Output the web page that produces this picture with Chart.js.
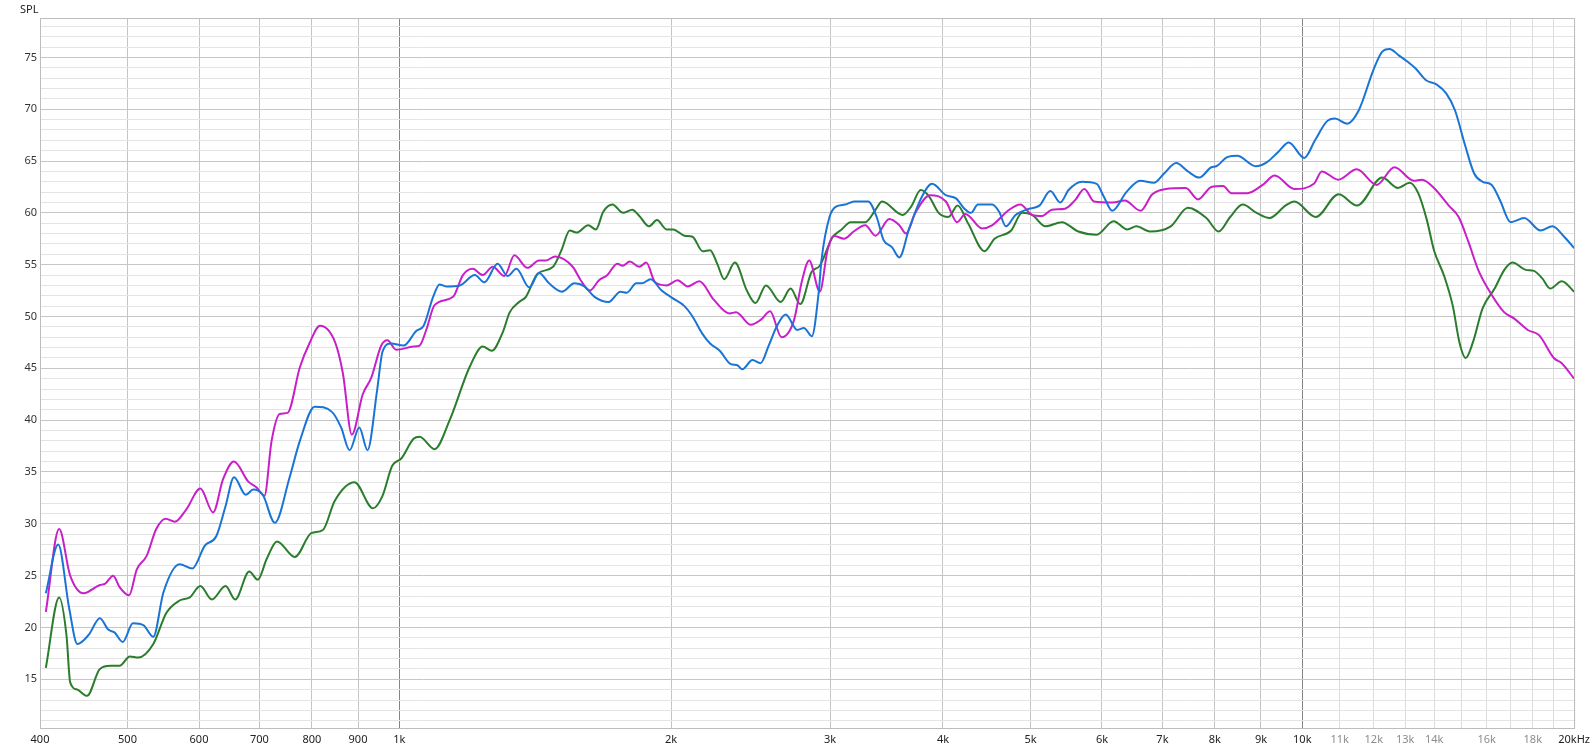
<!DOCTYPE html>
<html>
<head>
<meta charset="utf-8">
<script src="https://cdn.jsdelivr.net/npm/chart.js@4.4.1/dist/chart.umd.min.js"></script>
<style>
  html, body { margin: 0; padding: 0; background: #fff; }
  #wrap { width: 1595px; height: 752px; position: relative; }
</style>
</head>
<body>
<div id="wrap"><canvas id="spl" width="1595" height="752"></canvas></div>
<script>
// frequency response, [Hz, dB SPL]
const blueCurve = [[406,23.3],[419,28.0],[431,21.8],[440,18.4],[453,19.3],[466,20.9],[476,19.8],[484,19.5],[494,18.6],[507,20.4],[521,20.2],[534,19.1],[548,23.4],[571,26.1],[590,25.7],[609,27.9],[627,28.8],[642,31.7],[656,34.5],[676,32.8],[689,33.3],[706,32.8],[728,30.1],[756,34.5],[776,38.0],[806,41.3],[842,40.8],[862,39.3],[881,37.1],[903,39.3],[922,37.1],[945,42.9],[958,46.6],[979,47.4],[1011,47.2],[1044,48.6],[1064,49.1],[1090,51.9],[1108,53.1],[1127,52.9],[1167,53.0],[1212,54.0],[1242,53.3],[1285,55.1],[1318,53.9],[1348,54.6],[1393,52.8],[1428,54.2],[1465,53.2],[1514,52.4],[1563,53.2],[1603,52.9],[1645,51.9],[1705,51.4],[1757,52.4],[1786,52.3],[1830,53.2],[1856,53.2],[1898,53.6],[1952,52.5],[2005,51.8],[2069,51.0],[2112,50.0],[2167,48.3],[2209,47.4],[2264,46.7],[2329,45.4],[2368,45.3],[2398,44.9],[2461,45.8],[2512,45.5],[2565,47.2],[2620,49.1],[2678,50.2],[2759,48.7],[2806,48.9],[2863,48.1],[2915,52.5],[2935,55.5],[2995,59.6],[3045,60.6],[3116,60.8],[3190,61.1],[3305,61.1],[3378,59.6],[3437,57.4],[3512,56.7],[3579,55.7],[3670,58.5],[3793,61.6],[3890,62.8],[4030,61.7],[4135,61.4],[4225,60.4],[4296,60.0],[4373,60.8],[4536,60.8],[4616,60.1],[4696,58.7],[4814,59.8],[4984,60.4],[5115,60.7],[5260,62.1],[5395,61.0],[5510,62.2],[5700,63.0],[5920,62.8],[6025,61.6],[6160,60.2],[6385,62.0],[6613,63.1],[6850,62.9],[7030,63.8],[7250,64.8],[7470,64.0],[7690,63.4],[7930,64.4],[8030,64.5],[8270,65.4],[8470,65.5],[8880,64.5],[9140,64.9],[9410,65.9],[9660,66.8],[10050,65.3],[10330,67.0],[10640,68.8],[10870,69.1],[11210,68.6],[11550,69.9],[11990,73.8],[12250,75.5],[12490,75.8],[12790,75.2],[13070,74.6],[13360,73.9],[13710,72.8],[14080,72.4],[14440,71.5],[14760,69.9],[15160,66.4],[15500,63.8],[15840,63.0],[16210,62.7],[16560,61.2],[17010,59.1],[17610,59.5],[18360,58.3],[18920,58.7],[19500,57.7],[20000,56.6]];

const magentaCurve = [[406,21.5],[420,29.5],[432,25.0],[447,23.3],[466,24.1],[472,24.2],[482,25.0],[490,23.9],[502,23.1],[512,25.6],[525,26.9],[538,29.5],[551,30.5],[564,30.2],[581,31.4],[602,33.4],[622,31.1],[638,34.3],[656,36.0],[680,34.1],[695,33.5],[709,32.7],[722,38.0],[737,40.6],[752,40.7],[776,45.1],[795,47.4],[817,49.1],[849,47.5],[866,44.5],[886,38.6],[911,42.5],[931,44.1],[955,47.2],[970,47.7],[992,46.8],[1037,47.1],[1053,47.2],[1071,48.7],[1094,51.1],[1147,51.9],[1176,54.0],[1206,54.6],[1237,54.0],[1269,54.8],[1307,53.9],[1341,55.9],[1386,54.7],[1428,55.4],[1452,55.4],[1488,55.8],[1556,54.8],[1588,53.5],[1625,52.5],[1664,53.5],[1700,54.0],[1743,55.1],[1767,54.9],[1800,55.3],[1844,54.8],[1877,55.2],[1920,53.3],[1977,53.0],[2033,53.5],[2086,52.9],[2149,53.4],[2231,51.6],[2320,50.3],[2360,50.4],[2451,49.2],[2515,49.7],[2574,50.5],[2650,48.0],[2735,49.6],[2793,53.5],[2844,55.4],[2922,52.4],[2980,56.4],[3027,57.8],[3108,57.5],[3185,58.2],[3281,58.8],[3368,57.8],[3489,59.4],[3579,58.8],[3640,58.0],[3728,60.0],[3870,61.7],[4030,61.1],[4147,59.1],[4236,59.9],[4420,58.5],[4533,58.8],[4736,60.3],[4873,60.8],[5022,59.8],[5150,59.7],[5282,60.3],[5460,60.4],[5600,61.2],[5737,62.3],[5880,61.1],[6168,61.0],[6358,61.2],[6622,60.2],[6822,61.8],[7060,62.3],[7430,62.4],[7663,61.3],[7930,62.5],[8170,62.6],[8350,61.9],[8690,61.9],[9040,62.7],[9320,63.6],[9800,62.3],[10300,62.8],[10510,64.0],[10960,63.2],[11490,64.2],[12090,62.7],[12650,64.4],[13290,63.1],[13570,63.2],[13990,62.4],[14530,60.7],[14900,59.6],[15290,57.1],[15660,54.5],[16180,52.2],[16740,50.4],[17170,49.8],[17770,48.7],[18290,48.2],[18990,46.0],[19380,45.5],[20000,44.0]];

const greenCurve = [[406,16.1],[420,22.9],[428,19.2],[432,14.7],[440,14.0],[451,13.4],[466,16.0],[479,16.3],[490,16.3],[503,17.2],[514,17.1],[534,18.4],[552,21.4],[571,22.6],[586,22.9],[602,24.0],[620,22.7],[642,24.0],[658,22.7],[682,25.4],[697,24.6],[713,26.6],[732,28.3],[766,26.8],[799,29.1],[823,29.4],[848,32.2],[892,34.0],[935,31.5],[958,32.7],[982,35.6],[1005,36.3],[1037,38.2],[1053,38.4],[1094,37.2],[1137,40.0],[1196,45.1],[1237,47.1],[1266,46.7],[1302,48.5],[1325,50.4],[1357,51.4],[1381,51.9],[1422,54.1],[1480,54.8],[1512,56.4],[1544,58.3],[1571,58.1],[1619,58.8],[1651,58.4],[1682,60.1],[1722,60.8],[1769,60.0],[1811,60.3],[1844,59.7],[1890,58.7],[1929,59.3],[1977,58.4],[2010,58.4],[2069,57.8],[2112,57.7],[2167,56.3],[2209,56.4],[2249,55.1],[2290,53.6],[2353,55.2],[2426,52.5],[2480,51.3],[2547,53.0],[2645,51.4],[2712,52.7],[2780,51.2],[2861,54.3],[2922,54.9],[3016,57.6],[3089,58.4],[3160,59.1],[3281,59.1],[3368,60.3],[3425,61.1],[3610,59.8],[3688,60.6],[3780,62.2],[3860,61.6],[3956,60.0],[4056,59.6],[4152,60.7],[4264,59.0],[4448,56.3],[4562,57.5],[4760,58.3],[4895,60.0],[5022,59.8],[5195,58.7],[5416,59.1],[5650,58.2],[5920,57.9],[6180,59.2],[6400,58.4],[6550,58.7],[6780,58.2],[7150,58.7],[7470,60.5],[7830,59.5],[8080,58.2],[8320,59.6],[8590,60.8],[8900,60.0],[9200,59.5],[9580,60.7],[9800,61.1],[10350,59.6],[10970,61.8],[11500,60.7],[12260,63.4],[12760,62.4],[13150,62.9],[13440,61.9],[13740,59.3],[13990,56.4],[14360,53.9],[14680,51.0],[14930,47.5],[15170,46.0],[15450,47.5],[15840,50.8],[16330,52.7],[16740,54.5],[17090,55.2],[17680,54.5],[18050,54.4],[18430,53.7],[18820,52.7],[19380,53.4],[20000,52.4]];

// axis ticks
const xTickHz = [400,500,600,700,800,900,1000,2000,3000,4000,5000,6000,7000,8000,9000,10000,11000,12000,13000,14000,15000,16000,17000,18000,19000,20000];
const xUnlabeled = [15000,17000,19000];
const yTicks = [];
for (let v = 11; v <= 78; v++) yTicks.push(v);

const toXY = (arr) => arr.map((p) => ({ x: p[0], y: p[1] }));

function hzLabel(v) {
  if (xUnlabeled.includes(v)) return '';
  if (v === 20000) return '20kHz';
  if (v >= 1000) return (v / 1000) + 'k';
  return String(v);
}

const frame = {
  id: 'frame',
  beforeDatasetsDraw(chart) {
    const a = chart.chartArea;
    const ctx = chart.ctx;
    ctx.save();
    ctx.strokeStyle = '#bdbdbd';
    ctx.lineWidth = 1;
    ctx.strokeRect(a.left + 0.5, a.top + 0.5, a.right - a.left, a.bottom - a.top);
    ctx.restore();
  },
  afterDraw(chart) {
    const ctx = chart.ctx;
    ctx.save();
    ctx.fillStyle = '#222';
    ctx.font = '11px "Noto Sans"';
    ctx.textBaseline = 'alphabetic';
    ctx.fillText('SPL', 20, 13);
    ctx.restore();
  }
};

const line = (data, color) => ({
  data: toXY(data),
  borderColor: color,
  borderWidth: 2,
  pointRadius: 0,
  fill: false,
  cubicInterpolationMode: 'monotone',
});

new Chart(document.getElementById('spl'), {
  type: 'line',
  data: {
    datasets: [
      line(blueCurve, '#1a74d6'),
      line(magentaCurve, '#c81fc8'),
      line(greenCurve, '#2a7d2c'),
    ],
  },
  plugins: [frame],
  options: {
    responsive: false,
    animation: false,
    devicePixelRatio: 1,
    layout: { padding: { top: 18, right: 19, left: 0, bottom: 0 } },
    plugins: {
      legend: { display: false },
      tooltip: { enabled: false },
    },
    scales: {
      x: {
        type: 'logarithmic',
        min: 400,
        max: 20000,
        afterBuildTicks: (scale) => {
          scale.ticks = xTickHz.map((v) => ({ value: v }));
        },
        afterFit: (scale) => { scale.height = 24; },
        border: { display: false },
        grid: {
          drawTicks: false,
          color: (ctx) => {
            const v = ctx.tick && ctx.tick.value;
            if (v === 1000 || v === 10000) return '#858585';
            if (v > 10000) return '#dcdcdc';
            return '#c4c4c4';
          },
        },
        ticks: {
          autoSkip: false,
          maxRotation: 0,
          padding: 5,
          font: { family: '"Noto Sans"', size: 11 },
          color: (ctx) => {
            const v = ctx.tick && ctx.tick.value;
            return v > 10000 && v < 20000 ? '#8c8c8c' : '#222';
          },
          callback: (v) => hzLabel(v),
        },
      },
      y: {
        type: 'linear',
        min: 10.3,
        max: 78.8,
        afterBuildTicks: (scale) => {
          scale.ticks = yTicks.map((v) => ({ value: v }));
        },
        afterFit: (scale) => { scale.width = 40; },
        border: { display: false },
        grid: {
          drawTicks: false,
          color: (ctx) => (ctx.tick && ctx.tick.value % 5 === 0 ? '#c6c6c6' : '#e4e4e4'),
        },
        ticks: {
          autoSkip: false,
          padding: 3,
          font: { family: '"Noto Sans"', size: 11 },
          color: '#333',
          callback: (v) => (v % 5 === 0 ? String(v) : ''),
        },
      },
    },
  },
});
</script>
</body>
</html>
